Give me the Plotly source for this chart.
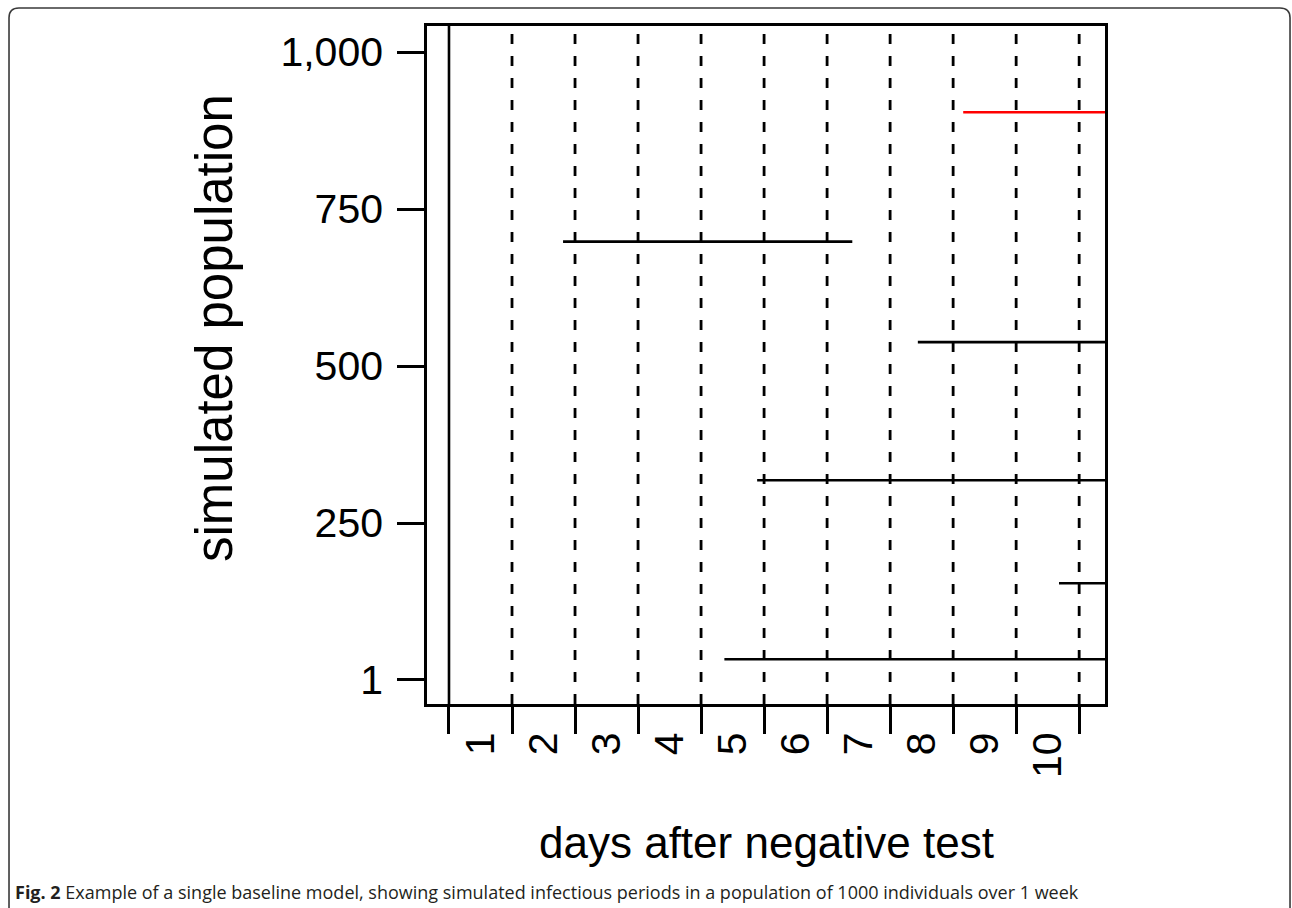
import plotly.graph_objects as go

# ---- data ----
day_boundaries = [0, 1, 2, 3, 4, 5, 6, 7, 8, 9, 10]
day_label_pos = [0.5, 1.5, 2.5, 3.5, 4.5, 5.5, 6.5, 7.5, 8.5, 9.5]
day_labels = ["1", "2", "3", "4", "5", "6", "7", "8", "9", "10"]

y_tickvals = [1, 250, 500, 750, 1000]
y_ticktext = ["1", "250", "500", "750", "1,000"]

# infectious periods: start day, end day, individual index, colour
period_start = [8.16, 1.81, 7.44, 4.89, 9.68, 4.37]
period_end = [10.41, 6.40, 10.41, 10.41, 10.41, 10.41]
period_pop = [904, 698, 538, 318, 154, 33]
period_color = ["red", "black", "black", "black", "black", "black"]

X_RANGE = [-0.349, 10.41]
Y_RANGE = [-38.2, 1041.4]

FONT = "Liberation Sans, Arial, sans-serif"

fig = go.Figure()

# solid line at the first day boundary
fig.add_trace(go.Scatter(
    x=[day_boundaries[0], day_boundaries[0]], y=Y_RANGE,
    mode="lines", line=dict(color="black", width=2.6),
    showlegend=False, hoverinfo="skip"))

# dashed lines at the other day boundaries
for d in day_boundaries[1:]:
    fig.add_trace(go.Scatter(
        x=[d, d], y=Y_RANGE, mode="lines",
        line=dict(color="black", width=2.8, dash="10px,12px"),
        showlegend=False, hoverinfo="skip"))

# infectious periods
for s, e, p, c in zip(period_start, period_end, period_pop, period_color):
    fig.add_trace(go.Scatter(
        x=[s, e], y=[p, p], mode="lines",
        line=dict(color=c, width=2.6),
        showlegend=False, hoverinfo="skip"))

# invisible trace to activate xaxis2 (labels between ticks)
fig.add_trace(go.Scatter(x=[X_RANGE[0]], y=[Y_RANGE[0]], xaxis="x2",
                         mode="markers", marker=dict(opacity=0),
                         showlegend=False, hoverinfo="skip"))

fig.update_layout(
    width=1292, height=908, autosize=False,
    margin=dict(l=427, r=187, t=26, b=204, pad=0),
    paper_bgcolor="white", plot_bgcolor="white",
    font=dict(family=FONT, color="black", size=41),
    xaxis=dict(
        range=X_RANGE, tickvals=day_boundaries, ticktext=[""] * len(day_boundaries),
        ticks="outside", ticklen=27, tickwidth=2.6, tickcolor="black",
        showgrid=False, zeroline=False, showline=True, linecolor="black",
        linewidth=2.6, mirror=True,
    ),
    xaxis2=dict(
        range=X_RANGE, overlaying="x", anchor="y", side="bottom",
        tickvals=day_label_pos, ticktext=day_labels, tickangle=-90,
        ticks="outside", ticklen=11, tickcolor="rgba(0,0,0,0)",
        tickfont=dict(family=FONT, size=41, color="black"),
        showgrid=False, zeroline=False, showline=False,
    ),
    yaxis=dict(
        range=Y_RANGE, tickvals=y_tickvals, ticktext=y_ticktext,
        ticks="outside", ticklen=27, tickwidth=2.6, tickcolor="black",
        ticklabelstandoff=6,
        tickfont=dict(family=FONT, size=41, color="black"),
        showgrid=False, zeroline=False, showline=True, linecolor="black",
        linewidth=2.6, mirror=True,
    ),
    annotations=[
        dict(text="days after negative test", xref="paper", yref="paper",
             x=0.5, y=-0.205, xanchor="center", yanchor="middle",
             showarrow=False, font=dict(family=FONT, size=44, color="black")),
        dict(text="simulated population", xref="paper", yref="paper",
             x=-0.3127, y=0.5546, xanchor="center", yanchor="middle", textangle=-90,
             showarrow=False, font=dict(family=FONT, size=51, color="black")),
        dict(text="<b>Fig. 2</b> Example of a single baseline model, showing simulated "
                  "infectious periods in a population of 1000 individuals over 1 week",
             xref="paper", yref="paper", x=-0.6106, y=-0.2773,
             xanchor="left", yanchor="middle", showarrow=False,
             font=dict(family="Open Sans, sans-serif", size=18, color="#231f20")),
    ],
    shapes=[
        dict(type="path", xref="paper", yref="paper",
             path="M -0.6165,-0.32 L -0.6165,1.012 Q -0.6165,1.0265 -0.602,1.0265 "
                  "L 1.258,1.0265 Q 1.2729,1.0265 1.2729,1.012 L 1.2729,-0.32",
             line=dict(color="#3a3a3a", width=1.6)),
    ],
)

fig.write_html("out.html", config={"displayModeBar": False},
               post_script="document.body.style.margin='0';"
                           "document.body.style.overflow='hidden';")
